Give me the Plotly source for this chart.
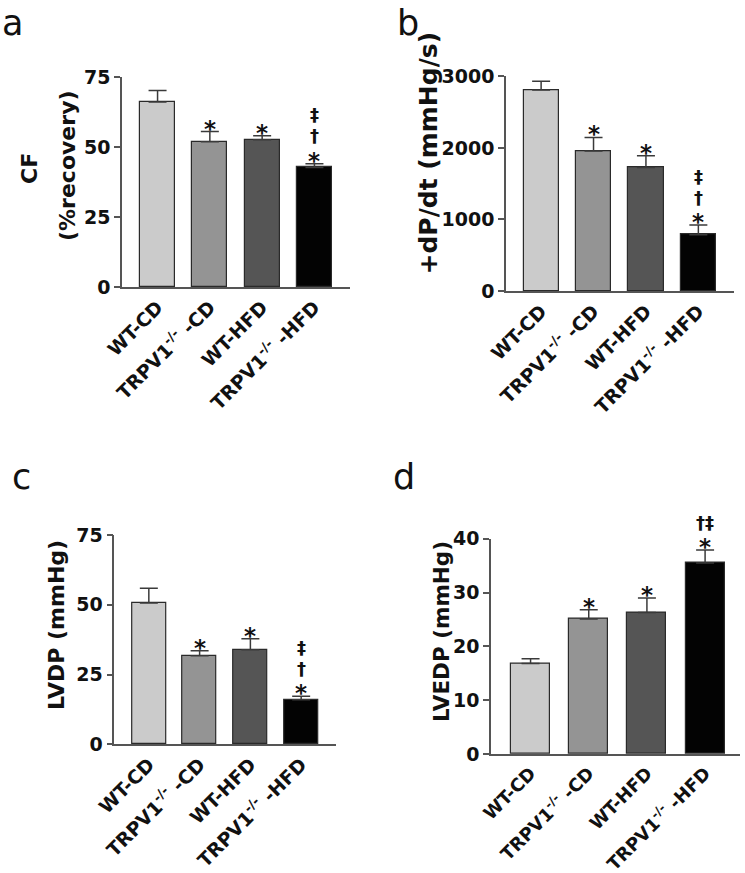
import plotly.graph_objects as go

# ---------------- data ----------------
categories = ["WT-CD", "TRPV1<sup>-/-</sup> -CD", "WT-HFD", "TRPV1<sup>-/-</sup> -HFD"]
bar_colors = ["#cbcbcb", "#949494", "#555555", "#030303"]

cf_mean = [66.1, 51.9, 52.6, 42.7]
cf_err = [4.1, 3.6, 1.4, 1.3]
cf_marks = [[], ["*"], ["*"], ["*", "†", "‡"]]

dpdt_mean = [2810, 1955, 1725, 787]
dpdt_err = [120, 190, 165, 135]
dpdt_marks = [[], ["*"], ["*"], ["*", "†", "‡"]]

lvdp_mean = [50.6, 31.7, 33.9, 16.0]
lvdp_err = [5.3, 1.8, 3.9, 1.2]
lvdp_marks = [[], ["*"], ["*"], ["*", "†", "‡"]]

lvedp_mean = [16.8, 25.1, 26.3, 35.5]
lvedp_err = [0.9, 1.7, 2.7, 2.4]
lvedp_marks = [[], ["*"], ["*"], ["*", "†‡"]]

W, H = 745, 873
FONT = "DejaVu Sans"


def fx(px):
    return px / W


def fy(py):
    return 1 - py / H


panels = [
    dict(means=cf_mean, errs=cf_err, marks=cf_marks, xd=(122, 350), yd=(77, 287),
         yr=(0, 75), dt=25, xr=(-0.68, 3.68), tf=19),
    dict(means=dpdt_mean, errs=dpdt_err, marks=dpdt_marks, xd=(506, 734), yd=(76.3, 291),
         yr=(0, 3000), dt=1000, xr=(-0.67, 3.68), tf=19),
    dict(means=lvdp_mean, errs=lvdp_err, marks=lvdp_marks, xd=(114.3, 335.7), yd=(535, 744.3),
         yr=(0, 75), dt=25, xr=(-0.68, 3.68), tf=19),
    dict(means=lvedp_mean, errs=lvedp_err, marks=lvedp_marks, xd=(491, 740), yd=(538.7, 754),
         yr=(0, 40), dt=10, xr=(-0.68, 3.6), tf=18),
]

fig = go.Figure()
annotations = []
xs = list(range(len(categories)))

for i, p in enumerate(panels, start=1):
    sfx = "" if i == 1 else str(i)
    fig.add_trace(go.Bar(
        x=xs, y=p["means"], width=0.67,
        marker=dict(color=bar_colors, line=dict(color="#2a2a2a", width=1.2)),
        error_y=dict(type="data", array=p["errs"], arrayminus=[0] * 4, symmetric=False,
                     color="#3a3a3a", thickness=1.5, width=9),
        xaxis="x" + sfx, yaxis="y" + sfx, showlegend=False,
    ))
    fig.layout["xaxis" + sfx] = dict(
        domain=[fx(p["xd"][0]), fx(p["xd"][1])], anchor="y" + sfx, automargin=False,
        range=list(p["xr"]), tickvals=xs, ticktext=categories, tickangle=-45,
        showline=True, linecolor="#555555", linewidth=1.5, ticks="",
        showgrid=False, zeroline=False,
        tickfont=dict(family=FONT, size=p["tf"], color="#111111", weight="bold"),
    )
    fig.layout["yaxis" + sfx] = dict(
        domain=[fy(p["yd"][1]), fy(p["yd"][0])], anchor="x" + sfx, automargin=False,
        range=list(p["yr"]), dtick=p["dt"], tick0=0,
        showline=True, linecolor="#555555", linewidth=1.5, ticks="outside",
        ticklen=6, tickwidth=1.5, tickcolor="#555555",
        showgrid=False, zeroline=False,
        tickfont=dict(family=FONT, size=19, color="#111111", weight="bold"),
    )
    # significance marks stacked above the error bars
    for j in range(4):
        top = p["means"][j] + p["errs"][j]
        for k, m in enumerate(p["marks"][j]):
            if m == "*":
                sz, shift = 23, 3
            else:
                sz, shift = 18, 7 + 21 * k
            annotations.append(dict(
                x=j, y=top, xref="x" + sfx, yref="y" + sfx, text=m, showarrow=False,
                xanchor="center", yanchor="middle", yshift=shift,
                font=dict(family=FONT, size=sz, color="#111111", weight="bold"),
            ))

# y-axis titles
ytitles = [
    ("CF", 30, 168, 22),
    ("(%recovery)", 67, 166, 22),
    ("+dP/dt (mmHg/s)", 428, 153.5, 25),
    ("LVDP (mmHg)", 56, 625, 22),
    ("LVEDP (mmHg)", 441, 632, 21.5),
]
for t, px, py, sz in ytitles:
    annotations.append(dict(
        x=fx(px), y=fy(py), xref="paper", yref="paper", text=t, showarrow=False,
        textangle=-90, xanchor="center", yanchor="middle",
        font=dict(family=FONT, size=sz, color="#111111", weight="bold"),
    ))

# panel letters
letters = [("a", 0, 1), ("b", 395, 1), ("c", 10, 455), ("d", 391, 455)]
for t, px, py in letters:
    annotations.append(dict(
        x=fx(px), y=fy(py), xref="paper", yref="paper", text=t, showarrow=False,
        xanchor="left", yanchor="top",
        font=dict(family=FONT, size=35, color="#111111"),
    ))

fig.update_layout(
    width=W, height=H, autosize=False,
    margin=dict(l=0, r=0, t=0, b=0, autoexpand=False),
    paper_bgcolor="white", plot_bgcolor="white",
    annotations=annotations, bargap=0,
)

fig.write_html(
    "out.html",
    config={"displayModeBar": False},
    post_script="document.body.style.margin='0';document.body.style.overflow='hidden';",
)
